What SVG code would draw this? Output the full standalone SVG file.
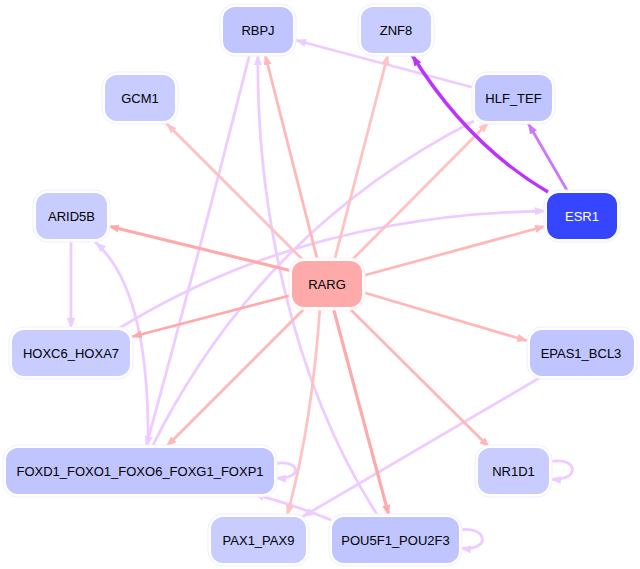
<svg xmlns="http://www.w3.org/2000/svg" width="640" height="569" viewBox="0 0 640 569">
<style>
.e{fill:none;stroke-width:2.8}
.p1{stroke:#ffaaaa}
.p2{stroke:#ffb8b8}
.p3{stroke:#ffc2c2}
.v{stroke:#eeccff}
.halo{fill:#ffffff;stroke:#eef0ff;stroke-width:1}
.n{fill:#c0c4ff}
.nl{fill:#c8ccff}
text{font-family:"Liberation Sans",Arial,sans-serif;font-size:13px;text-anchor:middle;fill:#000}
</style>
<defs>
<marker id="a1" markerUnits="userSpaceOnUse" markerWidth="12" markerHeight="10" refX="11" refY="4.5" orient="auto"><path d="M0,0.5 L11,4.5 L0,8.5 z" fill="#ffaaaa"/></marker>
<marker id="a2" markerUnits="userSpaceOnUse" markerWidth="12" markerHeight="10" refX="11" refY="4.5" orient="auto"><path d="M0,0.5 L11,4.5 L0,8.5 z" fill="#ffb8b8"/></marker>
<marker id="a3" markerUnits="userSpaceOnUse" markerWidth="12" markerHeight="10" refX="11" refY="4.5" orient="auto"><path d="M0,0.5 L11,4.5 L0,8.5 z" fill="#ffc2c2"/></marker>
<marker id="av" markerUnits="userSpaceOnUse" markerWidth="12" markerHeight="10" refX="11" refY="4.5" orient="auto"><path d="M0,0.5 L11,4.5 L0,8.5 z" fill="#eeccff"/></marker>
<marker id="am" markerUnits="userSpaceOnUse" markerWidth="12" markerHeight="10" refX="11" refY="4.5" orient="auto"><path d="M0,0.5 L11,4.5 L0,8.5 z" fill="#cc77ff"/></marker>
<marker id="ad" markerUnits="userSpaceOnUse" markerWidth="12" markerHeight="10" refX="11" refY="4.5" orient="auto"><path d="M0,0.5 L11,4.5 L0,8.5 z" fill="#bb33ff"/></marker>
</defs>
<rect width="640" height="569" fill="#ffffff"/>
<g id="edges">
<path class="e v" d="M475,88 L295,40" marker-end="url(#av)"/>
<path class="e v" d="M71,240 L71,329" marker-end="url(#av)"/>
<path class="e v" d="M115,331 Q300,215 546,211" marker-end="url(#av)"/>
<path class="e v" d="M152,447 Q260,230 474,121" marker-end="url(#av)"/>
<path class="e v" d="M250,53 Q200,250 146,447" marker-end="url(#av)"/>
<path class="e v" d="M378,516 C290,380 256,200 258,54" marker-end="url(#av)"/>
<path class="e v" d="M148,447 Q150,290 95,242" marker-end="url(#av)"/>
<path class="e v" d="M541,377 L302,517" marker-end="url(#av)"/>
<path class="e v" d="M331,520 Q295,505 253,494" marker-end="url(#av)"/>
<path class="e v" d="M274,464 C300,458 305,480 275,478" marker-end="url(#av)"/>
<path class="e v" d="M549,462 C578,455 582,482 550,479" marker-end="url(#av)"/>
<path class="e v" d="M459,530 C488,525 492,552 460,548" marker-end="url(#av)"/>
<path class="e p1" style="stroke-width:3.2" d="M292,271 L108,226" marker-end="url(#a1)"/>
<path class="e p3" d="M305,262 L166,123" marker-end="url(#a3)"/>
<path class="e p2" d="M318,262 L265,54" marker-end="url(#a2)"/>
<path class="e p3" d="M334,262 L388,54" marker-end="url(#a3)"/>
<path class="e p3" d="M350,262 L489,122" marker-end="url(#a3)"/>
<path class="e p2" d="M362,276 L546,226" marker-end="url(#a2)"/>
<path class="e p2" d="M362,292 L528,341" marker-end="url(#a2)"/>
<path class="e p2" d="M348,307 L490,448" marker-end="url(#a2)"/>
<path class="e p1" style="stroke-width:3.2" d="M333,307 L389,516" marker-end="url(#a1)"/>
<path class="e p3" d="M320,307 Q312,425 287,516" marker-end="url(#a3)"/>
<path class="e p1" d="M292,295 L131,337" marker-end="url(#a1)"/>
<path class="e p2" d="M306,307 L166,447" marker-end="url(#a2)"/>
<path class="e" style="stroke:#cc77ff" d="M568,192 L528,123" marker-end="url(#am)"/>
<path class="e" style="stroke:#bb33ff;stroke-width:3.5" d="M548,192 Q468,145 412,55" marker-end="url(#ad)"/>
</g>
<g id="RBPJ"><rect class="halo" x="220" y="4" width="76" height="52" rx="15"/><rect class="n" x="223" y="7" width="70" height="46" rx="12"/><text x="258" y="35">RBPJ</text></g>
<g id="ZNF8"><rect class="halo" x="358" y="4" width="76" height="52" rx="15"/><rect class="nl" x="361" y="7" width="70" height="46" rx="12"/><text x="396" y="35">ZNF8</text></g>
<g id="GCM1"><rect class="halo" x="102" y="72" width="76" height="52" rx="15"/><rect class="nl" x="105" y="75" width="70" height="46" rx="12"/><text x="140" y="103">GCM1</text></g>
<g id="HLF_TEF"><rect class="halo" x="472" y="72" width="83" height="52" rx="15"/><rect class="n" x="475" y="75" width="77" height="46" rx="12"/><text x="513.5" y="103">HLF_TEF</text></g>
<g id="ARID5B"><rect class="halo" x="33" y="190" width="77" height="52" rx="15"/><rect class="nl" x="36" y="193" width="71" height="46" rx="12"/><text x="71.5" y="221">ARID5B</text></g>
<g id="ESR1"><rect class="halo" x="544" y="190" width="76" height="52" rx="15"/><rect fill="#3646ff" x="547" y="193" width="70" height="46" rx="12"/><text x="582" y="221" style="fill:#ffffff">ESR1</text></g>
<g id="RARG"><rect class="halo" x="289" y="258" width="76" height="52" rx="15" style="stroke:#ffeeee"/><rect fill="#ffaaaa" x="292" y="261" width="70" height="46" rx="12"/><text x="327" y="289">RARG</text></g>
<g id="HOXC6_HOXA7"><rect class="halo" x="9" y="327" width="124" height="52" rx="15"/><rect class="nl" x="12" y="330" width="118" height="46" rx="12"/><text x="71" y="358">HOXC6_HOXA7</text></g>
<g id="EPAS1_BCL3"><rect class="halo" x="527" y="327" width="110" height="52" rx="15"/><rect class="n" x="530" y="330" width="104" height="46" rx="12"/><text x="581" y="358">EPAS1_BCL3</text></g>
<g id="FOXD1_FOXO1_FOXO6_FOXG1_FOXP1"><rect class="halo" x="3" y="445" width="274" height="52" rx="15"/><rect class="n" x="6" y="448" width="268" height="46" rx="12"/><text x="140" y="476">FOXD1_FOXO1_FOXO6_FOXG1_FOXP1</text></g>
<g id="NR1D1"><rect class="halo" x="475" y="445" width="77" height="52" rx="15"/><rect class="nl" x="478" y="448" width="71" height="46" rx="12"/><text x="513.5" y="476">NR1D1</text></g>
<g id="PAX1_PAX9"><rect class="halo" x="208" y="514" width="101" height="52" rx="15"/><rect class="nl" x="211" y="517" width="95" height="46" rx="12"/><text x="258.5" y="545">PAX1_PAX9</text></g>
<g id="POU5F1_POU2F3"><rect class="halo" x="329" y="514" width="133" height="52" rx="15"/><rect class="n" x="332" y="517" width="127" height="46" rx="12"/><text x="395.5" y="545">POU5F1_POU2F3</text></g>
</svg>
